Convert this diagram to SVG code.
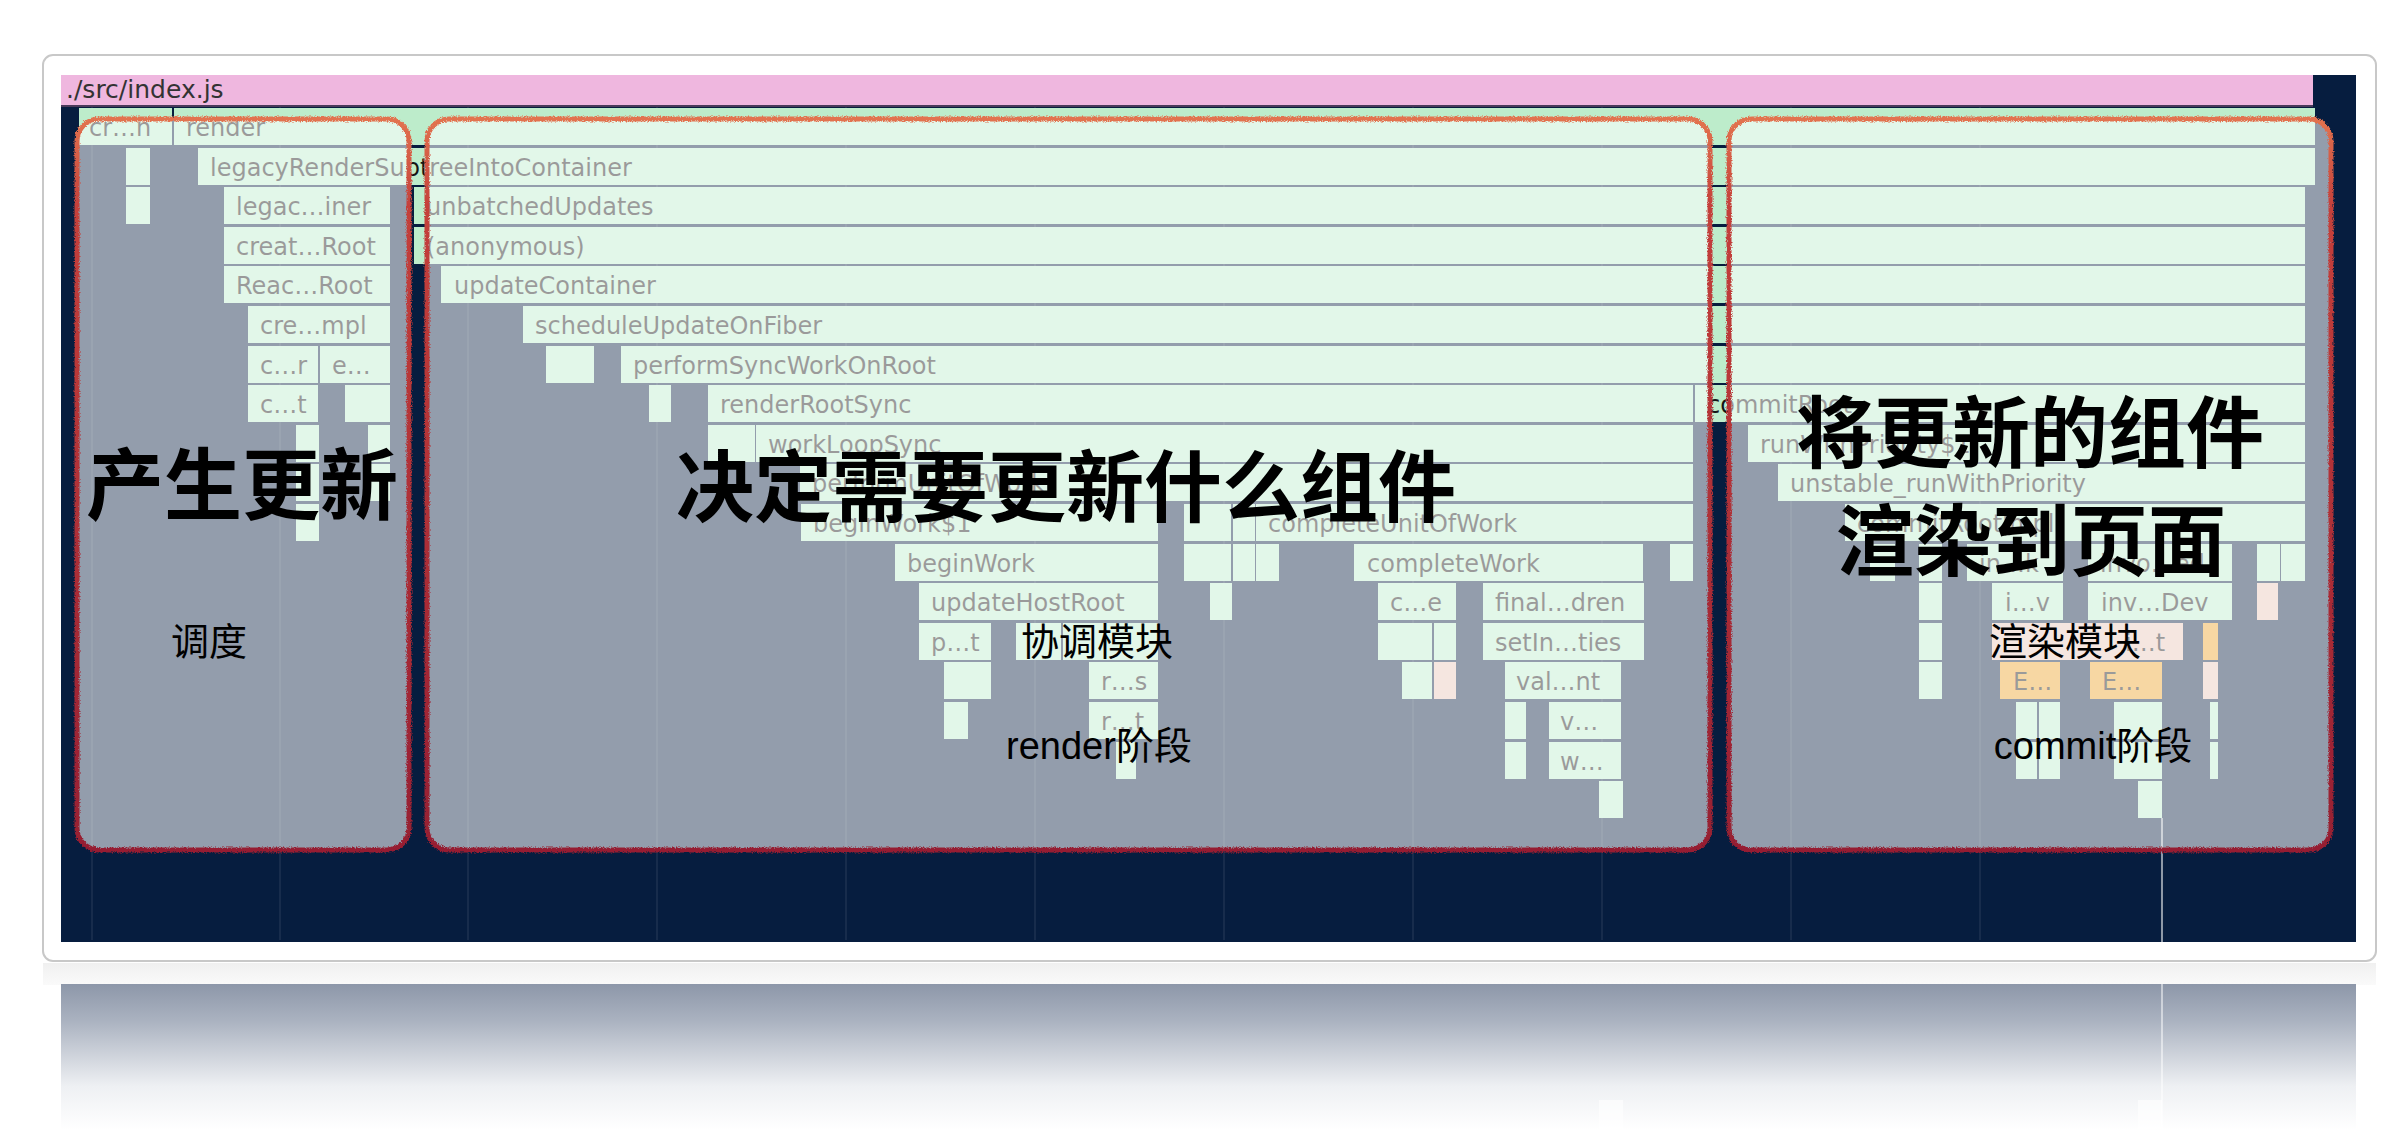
<svg xmlns="http://www.w3.org/2000/svg" width="2404" height="1130" viewBox="0 0 2404 1130">
<defs>
<style>
.b{fill:#bdeccb}
.p{fill:#e8c6b8}
.o{fill:#eca22a}
.t{font-family:"DejaVu Sans","Liberation Sans",sans-serif;font-size:24px;fill:#151515}
.big{font-family:"Noto Sans CJK SC","Noto Sans CJK JP",sans-serif;font-size:78px;font-weight:700;fill:#000}
.sm{font-family:"Liberation Sans","Noto Sans CJK SC",sans-serif;font-size:38px;fill:#000}
.grid{stroke:#ffffff;stroke-opacity:0.07;stroke-width:2}
</style>
<linearGradient id="edge" x1="0" y1="0" x2="0" y2="1">
<stop offset="0" stop-color="#e2734f"/>
<stop offset="0.12" stop-color="#c4403b"/>
<stop offset="1" stop-color="#961f33"/>
</linearGradient>
<linearGradient id="refl" x1="0" y1="0" x2="0" y2="1">
<stop offset="0" stop-color="#8d97a9"/>
<stop offset="0.25" stop-color="#aab2c0"/>
<stop offset="0.7" stop-color="#eef0f3"/>
<stop offset="1" stop-color="#ffffff"/>
</linearGradient>
<linearGradient id="cardrefl" x1="0" y1="0" x2="0" y2="1">
<stop offset="0" stop-color="#f0f0f0"/>
<stop offset="1" stop-color="#fafafa"/>
</linearGradient>
<filter id="rough" x="-3%" y="-3%" width="106%" height="106%">
<feTurbulence type="fractalNoise" baseFrequency="0.8" numOctaves="2" seed="4" result="n"/>
<feDisplacementMap in="SourceGraphic" in2="n" scale="4" xChannelSelector="R" yChannelSelector="G"/>
</filter>
</defs>
<rect x="0" y="0" width="2404" height="1130" fill="#ffffff"/>
<!-- card -->
<rect x="43" y="55" width="2333" height="906" rx="10" fill="#ffffff" stroke="#c8c8c8" stroke-width="2"/>
<!-- reflection -->
<rect x="43" y="963" width="2333" height="22" fill="url(#cardrefl)"/>
<rect x="61" y="984" width="2295" height="146" fill="url(#refl)"/>
<rect x="1599" y="1100" width="24" height="30" fill="#ffffff" opacity="0.6"/>
<rect x="2138" y="1100" width="24" height="30" fill="#ffffff" opacity="0.6"/>
<line x1="2162" y1="984" x2="2162" y2="1130" stroke="#ffffff" stroke-opacity="0.5" stroke-width="2"/>
<!-- chart background -->
<rect x="61" y="75" width="2295" height="867" fill="#061d3f"/>
<g id="grid">
<line class="grid" x1="92" y1="107" x2="92" y2="940"/>
<line class="grid" x1="280" y1="107" x2="280" y2="940"/>
<line class="grid" x1="468" y1="107" x2="468" y2="940"/>
<line class="grid" x1="657" y1="107" x2="657" y2="940"/>
<line class="grid" x1="846" y1="107" x2="846" y2="940"/>
<line class="grid" x1="1035" y1="107" x2="1035" y2="940"/>
<line class="grid" x1="1224" y1="107" x2="1224" y2="940"/>
<line class="grid" x1="1413" y1="107" x2="1413" y2="940"/>
<line class="grid" x1="1602" y1="107" x2="1602" y2="940"/>
<line class="grid" x1="1791" y1="107" x2="1791" y2="940"/>
<line class="grid" x1="1980" y1="107" x2="1980" y2="940"/>
</g>
<line x1="2162" y1="818" x2="2162" y2="942" stroke="#ffffff" stroke-opacity="0.55" stroke-width="2"/>
<!-- pink header -->
<g id="header">
<rect x="61" y="75" width="2252" height="31" fill="#efb7df"/>
<rect x="61" y="105" width="2252" height="2" fill="#4a3a5a"/>
<text class="t" x="66" y="98" style="font-size:25px;fill:#333">./src/index.js</text>
</g>
<!-- flame bars -->
<g id="row0">
<rect class="b" x="79" y="108" width="93" height="37"/><text class="t" x="89" y="136">cr…n</text>
<rect class="b" x="174" y="108" width="2141" height="37"/><text class="t" x="186" y="136">render</text>
</g>
<g id="row1">
<rect class="b" x="126" y="148" width="24" height="37"/>
<rect class="b" x="198" y="148" width="2117" height="37"/><text class="t" x="210" y="176">legacyRenderSubtreeIntoContainer</text>
</g>
<g id="row2">
<rect class="b" x="126" y="187" width="24" height="37"/>
<rect class="b" x="224" y="187" width="166" height="37"/><text class="t" x="236" y="215">legac…iner</text>
<rect class="b" x="414" y="187" width="1891" height="37"/><text class="t" x="426" y="215">unbatchedUpdates</text>
</g>
<g id="row3">
<rect class="b" x="224" y="227" width="166" height="37"/><text class="t" x="236" y="255">creat…Root</text>
<rect class="b" x="414" y="227" width="1891" height="37"/><text class="t" x="426" y="255">(anonymous)</text>
</g>
<g id="row4">
<rect class="b" x="224" y="266" width="166" height="37"/><text class="t" x="236" y="294">Reac…Root</text>
<rect class="b" x="441" y="266" width="1864" height="37"/><text class="t" x="454" y="294">updateContainer</text>
</g>
<g id="row5">
<rect class="b" x="248" y="306" width="142" height="37"/><text class="t" x="260" y="334">cre…mpl</text>
<rect class="b" x="523" y="306" width="1782" height="37"/><text class="t" x="535" y="334">scheduleUpdateOnFiber</text>
</g>
<g id="row6">
<rect class="b" x="248" y="346" width="70" height="37"/><text class="t" x="260" y="374">c…r</text>
<rect class="b" x="320" y="346" width="70" height="37"/><text class="t" x="332" y="374">e…</text>
<rect class="b" x="546" y="346" width="48" height="37"/>
<rect class="b" x="621" y="346" width="1684" height="37"/><text class="t" x="633" y="374">performSyncWorkOnRoot</text>
</g>
<g id="row7">
<rect class="b" x="248" y="385" width="70" height="37"/><text class="t" x="260" y="413">c…t</text>
<rect class="b" x="345" y="385" width="45" height="37"/>
<rect class="b" x="649" y="385" width="22" height="37"/>
<rect class="b" x="708" y="385" width="985" height="37"/><text class="t" x="720" y="413">renderRootSync</text>
<rect class="b" x="1695" y="385" width="610" height="37"/><text class="t" x="1707" y="413">commitRoot</text>
</g>
<g id="row8">
<rect class="b" x="296" y="425" width="23" height="37"/>
<rect class="b" x="368" y="425" width="22" height="37"/>
<rect class="b" x="708" y="425" width="47" height="37"/>
<rect class="b" x="756" y="425" width="937" height="37"/><text class="t" x="768" y="453">workLoopSync</text>
<rect class="b" x="1748" y="425" width="557" height="37"/><text class="t" x="1760" y="453">runWithPriority$1</text>
</g>
<g id="row9">
<rect class="b" x="296" y="464" width="23" height="37"/>
<rect class="b" x="368" y="464" width="22" height="37"/>
<rect class="b" x="800" y="464" width="893" height="37"/><text class="t" x="812" y="492">performUnitOfWork</text>
<rect class="b" x="1778" y="464" width="527" height="37"/><text class="t" x="1790" y="492">unstable_runWithPriority</text>
</g>
<g id="row10">
<rect class="b" x="296" y="504" width="23" height="37"/>
<rect class="b" x="801" y="504" width="357" height="37"/><text class="t" x="813" y="532">beginWork$1</text>
<rect class="b" x="1184" y="504" width="47" height="37"/>
<rect class="b" x="1233" y="504" width="22" height="37"/>
<rect class="b" x="1256" y="504" width="437" height="37"/><text class="t" x="1268" y="532">completeUnitOfWork</text>
<rect class="b" x="1845" y="504" width="460" height="37"/><text class="t" x="1857" y="532">commitRootImpl</text>
</g>
<g id="row11">
<rect class="b" x="895" y="544" width="263" height="37"/><text class="t" x="907" y="572">beginWork</text>
<rect class="b" x="1184" y="544" width="47" height="37"/>
<rect class="b" x="1233" y="544" width="22" height="37"/>
<rect class="b" x="1256" y="544" width="23" height="37"/>
<rect class="b" x="1354" y="544" width="289" height="37"/><text class="t" x="1367" y="572">completeWork</text>
<rect class="b" x="1670" y="544" width="23" height="37"/>
<rect class="b" x="1870" y="544" width="25" height="37"/>
<rect class="b" x="1919" y="544" width="23" height="37"/>
<rect class="b" x="1967" y="544" width="96" height="37"/><text class="t" x="1979" y="572">in…k</text>
<rect class="b" x="2088" y="544" width="144" height="37"/><text class="t" x="2100" y="572">invo…ed</text>
<rect class="b" x="2257" y="544" width="23" height="37"/>
<rect class="b" x="2281" y="544" width="24" height="37"/>
</g>
<g id="row12">
<rect class="b" x="919" y="583" width="239" height="37"/><text class="t" x="931" y="611">updateHostRoot</text>
<rect class="b" x="1210" y="583" width="22" height="37"/>
<rect class="b" x="1378" y="583" width="78" height="37"/><text class="t" x="1390" y="611">c…e</text>
<rect class="b" x="1483" y="583" width="161" height="37"/><text class="t" x="1495" y="611">final…dren</text>
<rect class="b" x="1919" y="583" width="23" height="37"/>
<rect class="b" x="1992" y="583" width="71" height="37"/><text class="t" x="2005" y="611">i…v</text>
<rect class="b" x="2088" y="583" width="144" height="37"/><text class="t" x="2101" y="611">inv…Dev</text>
<rect class="p" x="2257" y="583" width="21" height="37"/>
</g>
<g id="row13">
<rect class="b" x="919" y="623" width="72" height="37"/><text class="t" x="931" y="651">p…t</text>
<rect class="b" x="1016" y="623" width="45" height="37"/>
<rect class="b" x="1063" y="623" width="95" height="37"/>
<rect class="b" x="1378" y="623" width="54" height="37"/>
<rect class="b" x="1434" y="623" width="22" height="37"/>
<rect class="b" x="1483" y="623" width="161" height="37"/><text class="t" x="1495" y="651">setIn…ties</text>
<rect class="b" x="1919" y="623" width="23" height="37"/>
<rect class="p" x="1992" y="623" width="191" height="37"/><text class="t" x="2125" y="651">i…t</text>
<rect class="o" x="2203" y="623" width="15" height="37"/>
</g>
<g id="row14">
<rect class="b" x="944" y="662" width="47" height="37"/>
<rect class="b" x="1089" y="662" width="69" height="37"/><text class="t" x="1101" y="690">r…s</text>
<rect class="b" x="1402" y="662" width="30" height="37"/>
<rect class="p" x="1434" y="662" width="22" height="37"/>
<rect class="b" x="1505" y="662" width="116" height="37"/><text class="t" x="1516" y="690">val…nt</text>
<rect class="b" x="1919" y="662" width="23" height="37"/>
<rect class="o" x="2000" y="662" width="60" height="37"/><text class="t" x="2013" y="690">E…</text>
<rect class="o" x="2090" y="662" width="72" height="37"/><text class="t" x="2102" y="690">E…</text>
<rect class="p" x="2203" y="662" width="15" height="37"/>
</g>
<g id="row15">
<rect class="b" x="944" y="702" width="24" height="37"/>
<rect class="b" x="1089" y="702" width="69" height="37"/><text class="t" x="1101" y="730">r…t</text>
<rect class="b" x="1505" y="702" width="21" height="37"/>
<rect class="b" x="1549" y="702" width="72" height="37"/><text class="t" x="1560" y="730">v…</text>
<rect class="b" x="2016" y="702" width="21" height="37"/>
<rect class="b" x="2039" y="702" width="21" height="37"/>
<rect class="b" x="2114" y="702" width="48" height="37"/>
<rect class="b" x="2210" y="702" width="8" height="37"/>
</g>
<g id="row16">
<rect class="b" x="1116" y="742" width="20" height="37"/>
<rect class="b" x="1505" y="742" width="21" height="37"/>
<rect class="b" x="1549" y="742" width="72" height="37"/><text class="t" x="1560" y="770">w…</text>
<rect class="b" x="2016" y="742" width="21" height="37"/>
<rect class="b" x="2039" y="742" width="21" height="37"/>
<rect class="b" x="2114" y="742" width="48" height="37"/>
<rect class="b" x="2210" y="742" width="8" height="37"/>
</g>
<g id="row17">
<rect class="b" x="1599" y="781" width="24" height="37"/>
<rect class="b" x="2138" y="781" width="24" height="37"/>
</g>
<!-- highlight boxes -->
<g id="box-overlays" fill="#ffffff" fill-opacity="0.57">
<rect x="77" y="119" width="332" height="731" rx="22"/>
<rect x="427" y="119" width="1283" height="731" rx="22"/>
<rect x="1729" y="119" width="602" height="731" rx="22"/>
</g>
<g id="box-borders" fill="none" stroke="url(#edge)" stroke-width="5" filter="url(#rough)">
<rect x="77" y="119" width="332" height="731" rx="22"/>
<rect x="427" y="119" width="1283" height="731" rx="22"/>
<rect x="1729" y="119" width="602" height="731" rx="22"/>
</g>
<!-- labels -->
<g id="label-schedule">
<text class="big" x="242" y="514" text-anchor="middle">产生更新</text>
<text class="sm" x="209" y="655" text-anchor="middle">调度</text>
</g>
<g id="label-render">
<text class="big" x="1066" y="516" text-anchor="middle">决定需要更新什么组件</text>
<text class="sm" x="1097" y="655" text-anchor="middle">协调模块</text>
<text class="sm" x="1099" y="759" text-anchor="middle">render阶段</text>
</g>
<g id="label-commit">
<text class="big" x="2030" y="462" text-anchor="middle">将更新的组件</text>
<text class="big" x="2031" y="570" text-anchor="middle">渲染到页面</text>
<text class="sm" x="2065" y="655" text-anchor="middle">渲染模块</text>
<text class="sm" x="2093" y="759" text-anchor="middle">commit阶段</text>
</g>
</svg>
